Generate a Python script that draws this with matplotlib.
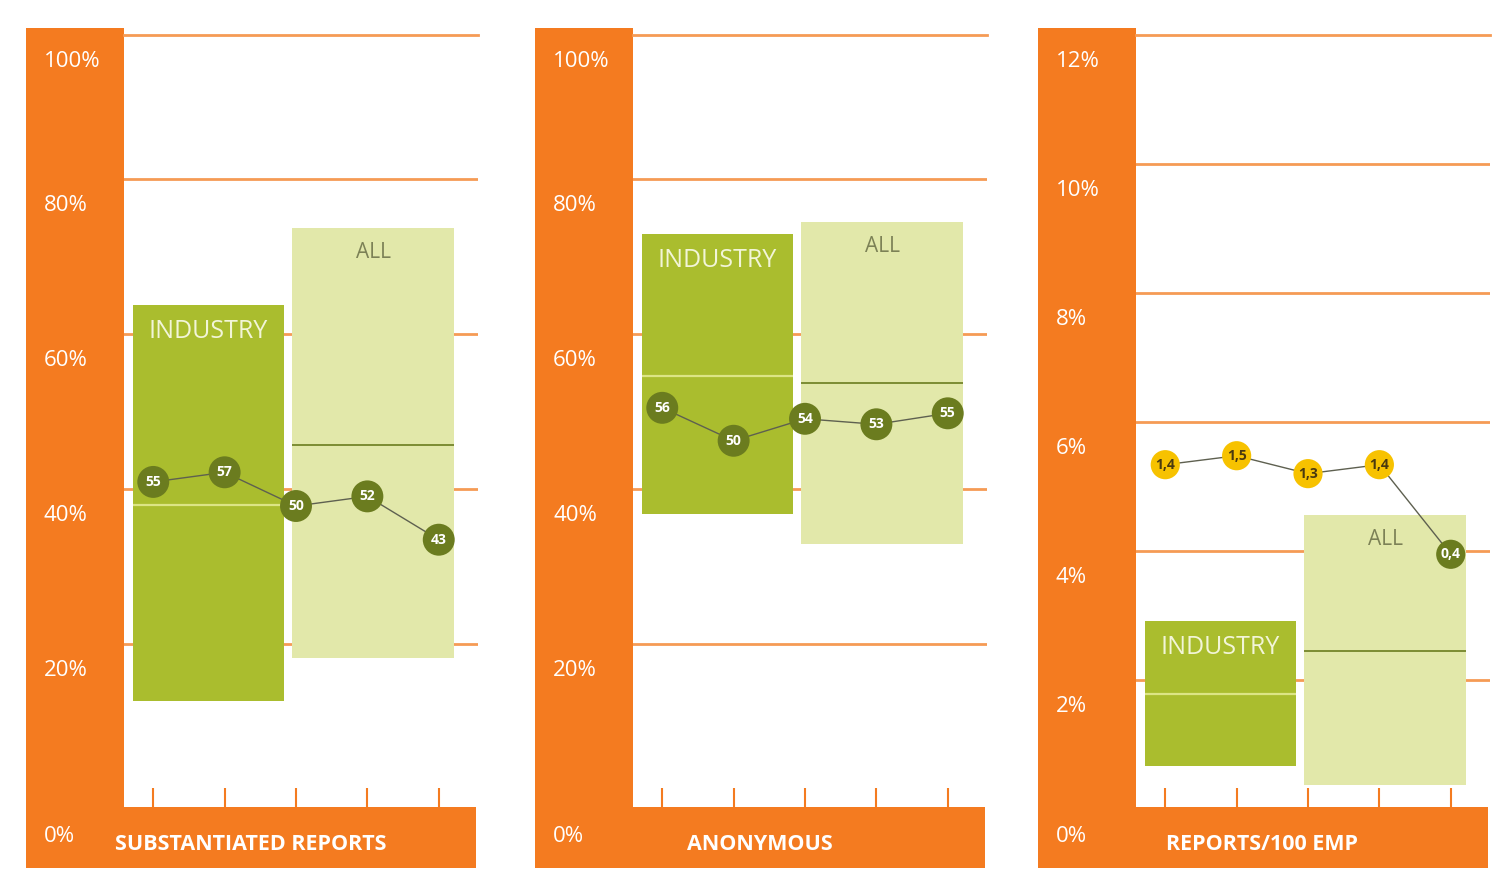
import matplotlib.pyplot as plt
from matplotlib.patches import Rectangle

# Panel setup
panel_titles = ["SUBSTANTIATED REPORTS", "ANONYMOUS", "REPORTS/100 EMP"]
axis_max = [100, 100, 12]
axis_step = [20, 20, 2]

# Range boxes (low / high / median) for industry and for all companies
industry_low = [12.6, 36.8, 0.67]
industry_high = [63.7, 72.9, 2.91]
industry_median = [37.9, 54.6, 1.78]
all_low = [18.2, 32.9, 0.37]
all_high = [73.7, 74.5, 4.56]
all_median = [45.7, 53.7, 2.45]

# Trend series drawn over the boxes
substantiated = [55, 57, 50, 52, 43]
anonymous = [56, 50, 54, 53, 55]
reports_per_100 = [1.4, 1.5, 1.3, 1.4, 0.4]
trend_series = [substantiated, anonymous, reports_per_100]

ORANGE = "#F47B20"
GRID = "#F59B55"
IND = "#AABD2E"
ALLC = "#E2E8AA"
OLIVE = "#6B7C1F"
YELLOW = "#F7C200"

plt.rcParams["font.family"] = ["Open Sans", "DejaVu Sans"]

W, H = 1493, 882
fig = plt.figure(figsize=(W / 100, H / 100), dpi=100)
fig.patch.set_facecolor("white")

left_px = [124, 633, 1136]
ax_w, ax_h = 354, 772
band_w = 98 / ax_w
band_h = 61 / ax_h

# primary y range (bottom, top) and hidden scale for the trend line
ylims = [(-1.03, 98.6), (-1.03, 98.6), (0.03, 12.0)]
trend_lims = [(-12.5, 147.8), (-16.7, 123.9), (-2.42, 6.195)]

ind_x0, ind_x1 = -0.28, 1.83
all_x0, all_x1 = 1.95, 4.21

for i in range(3):
    ax = fig.add_axes([left_px[i] / W, (H - 807) / H, ax_w / W, ax_h / H])
    ax.set_xlim(-0.41, 4.55)
    ax.set_ylim(*ylims[i])

    # orange L-shaped frame
    ax.add_patch(Rectangle((-band_w, -band_h), band_w, 1 + band_h + 7 / ax_h,
                           transform=ax.transAxes, clip_on=False,
                           color=ORANGE, lw=0, zorder=0))
    ax.add_patch(Rectangle((-band_w, -band_h), band_w + 352 / ax_w, band_h,
                           transform=ax.transAxes, clip_on=False,
                           color=ORANGE, lw=0, zorder=0))

    # y labels inside the orange band
    lab_x = -band_w + 18 / ax_w
    for v in range(0, axis_max[i] + 1, axis_step[i]):
        if v == 0:
            ax.text(lab_x, -30 / ax_h, "0%", transform=ax.transAxes,
                    ha="left", va="center", color="white", fontsize=16)
        else:
            yv = min(v, ylims[i][1])
            ax.annotate(f"{v}%", xy=(lab_x, yv),
                        xycoords=("axes fraction", "data"),
                        xytext=(0, -19), textcoords="offset points",
                        ha="left", va="center", color="white", fontsize=16)

    ax.text(0.357, -38 / ax_h, panel_titles[i], transform=ax.transAxes,
            ha="center", va="center", color="white", fontsize=15.5,
            fontweight="bold")

    # range boxes
    ax.add_patch(Rectangle((ind_x0, industry_low[i]), ind_x1 - ind_x0,
                           industry_high[i] - industry_low[i],
                           color=IND, lw=0, zorder=2))
    ax.hlines(industry_median[i], ind_x0, ind_x1, color="#DCE585", lw=1.6,
              zorder=3)
    ax.add_patch(Rectangle((all_x0, all_low[i]), all_x1 - all_x0,
                           all_high[i] - all_low[i],
                           color=ALLC, lw=0, zorder=2))
    ax.hlines(all_median[i], all_x0, all_x1, color=OLIVE, lw=1.2, zorder=3)

    ax.annotate("INDUSTRY", xy=((ind_x0 + ind_x1) / 2, industry_high[i]),
                xytext=(0, -19), textcoords="offset points",
                ha="center", va="center", color="#F2F5D8", fontsize=18,
                zorder=4)
    ax.annotate("ALL", xy=((all_x0 + all_x1) / 2, all_high[i]),
                xytext=(0, -18), textcoords="offset points",
                ha="center", va="center", color="#7C8156", fontsize=15,
                zorder=4)

    # trend line on its own hidden scale
    tx = ax.twinx()
    tx.set_ylim(*trend_lims[i])
    tx.axis("off")
    vals = trend_series[i]
    xs = list(range(len(vals)))
    tx.plot(xs, vals, color="#5E6050", lw=1, zorder=1)
    for x, v in zip(xs, vals):
        if i == 2:
            label = f"{v:.1f}".replace(".", ",")
            face = YELLOW if v >= 1 else OLIVE
            tcol = "#4A3A10" if v >= 1 else "white"
        else:
            label = str(v)
            face, tcol = OLIVE, "white"
        tx.scatter([x], [v], s=(23 if i < 2 else 21) ** 2, color=face,
                   zorder=3, edgecolors="none")
        tx.text(x, v, label, ha="center", va="center", color=tcol,
                fontsize=10, fontweight="bold", zorder=4)

    # grid and ticks (set after twinx, which turns left ticks back on)
    ax.set_yticks(list(range(axis_step[i], axis_max[i], axis_step[i])))
    ax.grid(axis="y", color=GRID, lw=2)
    ax.set_axisbelow(True)
    ax.tick_params(axis="y", left=False, right=False, labelleft=False)
    for side in ["left", "right", "bottom"]:
        ax.spines[side].set_visible(False)
    ax.spines["top"].set_color(GRID)
    ax.spines["top"].set_linewidth(2)
    ax.set_xticks(range(5))
    ax.tick_params(axis="x", direction="in", length=14, width=1.5,
                   color=ORANGE, labelbottom=False)

fig.savefig("out.png", dpi=100)
